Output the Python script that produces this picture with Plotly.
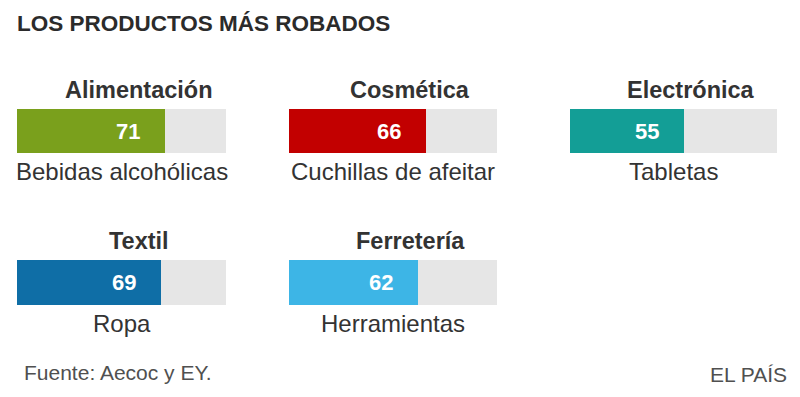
import plotly.graph_objects as go

# Data
categories = ["Alimentación", "Cosmética", "Electrónica", "Textil", "Ferretería"]
products = ["Bebidas alcohólicas", "Cuchillas de afeitar", "Tabletas", "Ropa", "Herramientas"]
values = [71, 66, 55, 69, 62]
total = [100, 100, 100, 100, 100]

# Styles
colors = ["#7aa01c", "#c20000", "#139e96", "#0f6ea6", "#3db5e6"]
OFF = 8  # page body margin
W, H = 800 - OFF, 397 - OFF
col_x = [(17, 226), (289, 497), (570, 777), (17, 226), (289, 497)]
row_y = [(109, 153), (109, 153), (109, 153), (260, 305), (260, 305)]
label_shift = 18
FONT = "Liberation Sans, Arial, sans-serif"
TXT = "#333333"


def px(s):
    return (s - OFF) / W


def py(s):
    return 1 - (s - OFF) / H


fig = go.Figure()
annotations = []
for i, (cat, prod, v, t, c) in enumerate(zip(categories, products, values, total, colors)):
    n = "" if i == 0 else str(i + 1)
    xa, ya = "x" + n, "y" + n
    fig.add_trace(go.Bar(x=[t], y=[0], orientation="h", marker=dict(color="#e6e6e6", line_width=0),
                         width=1, xaxis=xa, yaxis=ya, hoverinfo="skip", showlegend=False))
    fig.add_trace(go.Bar(x=[v], y=[0], orientation="h", marker=dict(color=c, line_width=0),
                         width=1, xaxis=xa, yaxis=ya, showlegend=False))
    x0, x1 = col_x[i]
    y0, y1 = row_y[i]
    fig.update_layout(**{
        ("xaxis" + n): dict(domain=[px(x0), px(x1)], range=[0, 100], visible=False, fixedrange=True),
        ("yaxis" + n): dict(domain=[py(y1), py(y0)], range=[-0.5, 0.5], visible=False, fixedrange=True),
    })
    cx = (x0 + x1) / 2
    annotations.append(dict(x=px(cx + 17), y=py(y0 - 19), xref="paper", yref="paper",
                            text="<b>%s</b>" % cat, showarrow=False, xanchor="center", yanchor="middle",
                            font=dict(family=FONT, size=23.5, color=TXT)))
    annotations.append(dict(x=v - label_shift, y=0, xref=xa, yref=ya, text="<b>%d</b>" % v,
                            showarrow=False, xanchor="center", yanchor="middle",
                            font=dict(family=FONT, size=22, color="white")))
    annotations.append(dict(x=px(cx), y=py(y1 + 18), xref="paper", yref="paper",
                            text=prod, showarrow=False, xanchor="center", yanchor="middle",
                            font=dict(family=FONT, size=24, color=TXT)))

annotations.append(dict(x=px(15), y=py(24), xref="paper", yref="paper", text="<b>LOS PRODUCTOS MÁS ROBADOS</b>",
                        showarrow=False, xanchor="left", yanchor="middle",
                        font=dict(family=FONT, size=22.5, color="#2b2b2b")))
annotations.append(dict(x=px(22), y=py(372), xref="paper", yref="paper", text="Fuente: Aecoc y EY.",
                        showarrow=False, xanchor="left", yanchor="middle",
                        font=dict(family=FONT, size=21, color="#505050")))
annotations.append(dict(x=px(789), y=py(374), xref="paper", yref="paper", text="EL PAÍS",
                        showarrow=False, xanchor="right", yanchor="middle",
                        font=dict(family=FONT, size=21, color="#505050")))

fig.update_layout(width=W, height=H, margin=dict(l=0, r=0, t=0, b=0),
                  paper_bgcolor="white", plot_bgcolor="white", barmode="overlay", bargap=0,
                  annotations=annotations)
fig.write_html("out.html")
